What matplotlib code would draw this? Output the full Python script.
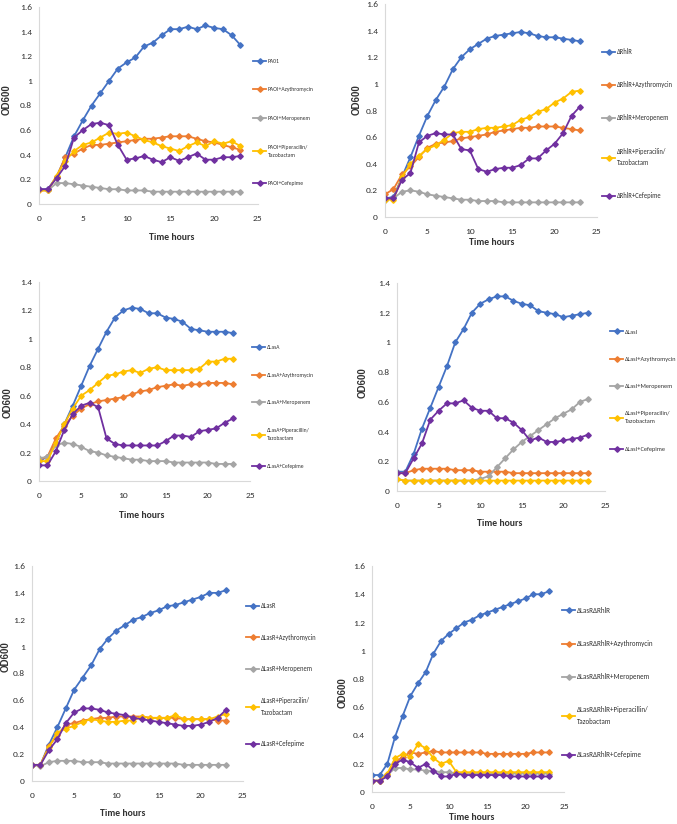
import matplotlib.pyplot as plt
import numpy as np
from matplotlib.ticker import FuncFormatter

# time points (hours)
hours = list(range(24))

# --- Panel A: PA01 ---
pa01 = [0.12, 0.12, 0.22, 0.38, 0.55, 0.68, 0.80, 0.90, 1.00, 1.10, 1.15, 1.19,
        1.28, 1.31, 1.37, 1.42, 1.42, 1.44, 1.42, 1.45, 1.43, 1.42, 1.37, 1.29]
pa01_azy = [0.11, 0.11, 0.22, 0.38, 0.41, 0.45, 0.48, 0.48, 0.49, 0.50, 0.51, 0.52,
            0.53, 0.53, 0.54, 0.55, 0.55, 0.55, 0.53, 0.51, 0.50, 0.48, 0.46, 0.44]
pa01_mero = [0.12, 0.11, 0.17, 0.17, 0.16, 0.15, 0.14, 0.13, 0.12, 0.12, 0.11, 0.11,
             0.11, 0.10, 0.10, 0.10, 0.10, 0.10, 0.10, 0.10, 0.10, 0.10, 0.10, 0.10]
pa01_pip = [0.11, 0.11, 0.23, 0.35, 0.43, 0.48, 0.50, 0.54, 0.58, 0.57, 0.58, 0.55,
            0.52, 0.50, 0.47, 0.45, 0.43, 0.47, 0.50, 0.47, 0.51, 0.49, 0.51, 0.47]
pa01_cef = [0.12, 0.12, 0.21, 0.31, 0.54, 0.60, 0.65, 0.66, 0.64, 0.48, 0.36, 0.37,
            0.39, 0.36, 0.34, 0.38, 0.35, 0.38, 0.41, 0.36, 0.36, 0.38, 0.38, 0.39]

# --- Panel B: dRhlR ---
rhlr = [0.14, 0.15, 0.30, 0.45, 0.61, 0.76, 0.88, 0.98, 1.11, 1.20, 1.26, 1.30,
        1.34, 1.36, 1.37, 1.38, 1.39, 1.38, 1.36, 1.35, 1.35, 1.34, 1.33, 1.32]
rhlr_azy = [0.17, 0.21, 0.32, 0.38, 0.45, 0.52, 0.55, 0.56, 0.57, 0.59, 0.60, 0.61,
            0.62, 0.64, 0.65, 0.66, 0.67, 0.67, 0.68, 0.68, 0.68, 0.67, 0.66, 0.65]
rhlr_mero = [0.13, 0.14, 0.19, 0.20, 0.19, 0.17, 0.16, 0.15, 0.14, 0.13, 0.13, 0.12,
             0.12, 0.12, 0.11, 0.11, 0.11, 0.11, 0.11, 0.11, 0.11, 0.11, 0.11, 0.11]
rhlr_pip = [0.13, 0.13, 0.30, 0.40, 0.46, 0.51, 0.54, 0.58, 0.63, 0.64, 0.64, 0.66,
            0.67, 0.67, 0.68, 0.69, 0.73, 0.75, 0.79, 0.81, 0.86, 0.89, 0.94, 0.95]
rhlr_cef = [0.14, 0.14, 0.28, 0.33, 0.56, 0.61, 0.63, 0.62, 0.62, 0.51, 0.50, 0.36,
            0.34, 0.36, 0.37, 0.37, 0.39, 0.44, 0.44, 0.50, 0.55, 0.63, 0.76, 0.83]

# --- Panel C: dLasA ---
lasa = [0.14, 0.17, 0.27, 0.40, 0.53, 0.67, 0.81, 0.93, 1.05, 1.15, 1.20, 1.22,
        1.21, 1.18, 1.18, 1.15, 1.14, 1.12, 1.07, 1.06, 1.05, 1.05, 1.05, 1.04]
lasa_azy = [0.15, 0.17, 0.30, 0.39, 0.46, 0.51, 0.54, 0.56, 0.57, 0.58, 0.59, 0.61,
            0.63, 0.64, 0.66, 0.67, 0.68, 0.67, 0.68, 0.68, 0.69, 0.69, 0.69, 0.68]
lasa_mero = [0.16, 0.17, 0.25, 0.27, 0.26, 0.24, 0.21, 0.20, 0.18, 0.17, 0.16, 0.15,
             0.15, 0.14, 0.14, 0.14, 0.13, 0.13, 0.13, 0.13, 0.13, 0.12, 0.12, 0.12]
lasa_pip = [0.14, 0.14, 0.27, 0.40, 0.51, 0.60, 0.64, 0.69, 0.74, 0.75, 0.77, 0.78,
            0.76, 0.79, 0.80, 0.78, 0.78, 0.78, 0.78, 0.79, 0.84, 0.84, 0.86, 0.86]
lasa_cef = [0.11, 0.11, 0.21, 0.36, 0.47, 0.53, 0.55, 0.52, 0.30, 0.26, 0.25, 0.25,
            0.25, 0.25, 0.25, 0.28, 0.32, 0.32, 0.31, 0.35, 0.36, 0.37, 0.41, 0.44]

# --- Panel D: dLasI ---
lasi = [0.13, 0.13, 0.25, 0.42, 0.56, 0.70, 0.84, 1.00, 1.09, 1.20, 1.26, 1.29,
        1.31, 1.31, 1.28, 1.26, 1.25, 1.21, 1.20, 1.19, 1.17, 1.18, 1.19, 1.20]
lasi_azy = [0.12, 0.12, 0.14, 0.15, 0.15, 0.15, 0.15, 0.14, 0.14, 0.14, 0.13, 0.13,
            0.13, 0.13, 0.12, 0.12, 0.12, 0.12, 0.12, 0.12, 0.12, 0.12, 0.12, 0.12]
lasi_mero = [0.08, 0.07, 0.07, 0.07, 0.07, 0.07, 0.07, 0.07, 0.07, 0.07, 0.08, 0.10,
             0.16, 0.22, 0.28, 0.33, 0.37, 0.41, 0.45, 0.49, 0.52, 0.55, 0.60, 0.62]
lasi_pip = [0.08, 0.07, 0.07, 0.07, 0.07, 0.07, 0.07, 0.07, 0.07, 0.07, 0.07, 0.07,
            0.07, 0.07, 0.07, 0.07, 0.07, 0.07, 0.07, 0.07, 0.07, 0.07, 0.07, 0.07]
lasi_cef = [0.12, 0.12, 0.22, 0.32, 0.48, 0.54, 0.59, 0.59, 0.61, 0.56, 0.54, 0.54,
            0.49, 0.49, 0.46, 0.41, 0.34, 0.36, 0.33, 0.33, 0.34, 0.35, 0.36, 0.38]

# --- Panel E: dLasR ---
lasr = [0.12, 0.12, 0.27, 0.40, 0.54, 0.68, 0.77, 0.86, 0.98, 1.06, 1.12, 1.16,
        1.20, 1.22, 1.25, 1.27, 1.30, 1.31, 1.33, 1.35, 1.37, 1.40, 1.40, 1.42]
lasr_azy = [0.12, 0.12, 0.26, 0.34, 0.42, 0.43, 0.45, 0.46, 0.47, 0.47, 0.48, 0.48,
            0.48, 0.48, 0.47, 0.47, 0.47, 0.47, 0.46, 0.46, 0.46, 0.46, 0.45, 0.45]
lasr_mero = [0.12, 0.11, 0.14, 0.15, 0.15, 0.15, 0.14, 0.14, 0.14, 0.13, 0.13, 0.13,
             0.13, 0.13, 0.13, 0.13, 0.13, 0.13, 0.12, 0.12, 0.12, 0.12, 0.12, 0.12]
lasr_pip = [0.12, 0.12, 0.25, 0.36, 0.39, 0.41, 0.44, 0.46, 0.45, 0.44, 0.44, 0.45,
            0.45, 0.48, 0.47, 0.47, 0.47, 0.49, 0.46, 0.46, 0.46, 0.46, 0.48, 0.50]
lasr_cef = [0.12, 0.12, 0.23, 0.31, 0.43, 0.51, 0.54, 0.54, 0.53, 0.51, 0.50, 0.49,
            0.47, 0.46, 0.45, 0.44, 0.43, 0.42, 0.41, 0.41, 0.42, 0.44, 0.47, 0.53]

# --- Panel F: dLasR dRhlR ---
lasr_rhlr = [0.12, 0.12, 0.20, 0.39, 0.54, 0.68, 0.77, 0.85, 0.98, 1.07, 1.12, 1.16,
             1.20, 1.22, 1.25, 1.27, 1.29, 1.31, 1.33, 1.35, 1.37, 1.40, 1.40, 1.42]
lasr_rhlr_azy = [0.08, 0.08, 0.12, 0.21, 0.25, 0.28, 0.27, 0.28, 0.29, 0.28, 0.28, 0.28,
                 0.28, 0.28, 0.28, 0.27, 0.27, 0.27, 0.27, 0.27, 0.27, 0.28, 0.28, 0.28]
lasr_rhlr_mero = [0.08, 0.08, 0.12, 0.17, 0.17, 0.16, 0.16, 0.15, 0.15, 0.14, 0.14, 0.13,
                  0.13, 0.13, 0.13, 0.13, 0.13, 0.13, 0.13, 0.13, 0.13, 0.13, 0.13, 0.13]
lasr_rhlr_pip = [0.08, 0.08, 0.13, 0.24, 0.27, 0.25, 0.34, 0.31, 0.24, 0.20, 0.22, 0.14,
                 0.14, 0.14, 0.14, 0.14, 0.14, 0.14, 0.14, 0.14, 0.14, 0.14, 0.14, 0.14]
lasr_rhlr_cef = [0.08, 0.08, 0.11, 0.20, 0.23, 0.21, 0.17, 0.20, 0.15, 0.11, 0.11, 0.13,
                 0.12, 0.12, 0.12, 0.12, 0.12, 0.12, 0.11, 0.11, 0.11, 0.11, 0.11, 0.11]

treatments_a = ['PA01', 'PAOI+Azythromycin', 'PAOI+Meropenem',
                'PAOI+Piperacilin/\nTazobactam', 'PAOI+Cefepime']
treatments_b = ['ΔRhlR', 'ΔRhlR+Azythromycin', 'ΔRhlR+Meropenem',
                'ΔRhlR+Piperacilin/\nTazobactam', 'ΔRhlR+Cefepime']
treatments_c = ['ΔLasA', 'ΔLasA+Azythromycin', 'ΔLasA+Meropenem',
                'ΔLasA+Piperacillin/\nTazobactam', 'ΔLasA+Cefepime']
treatments_d = ['ΔLasI', 'ΔLasI+Azythromycin', 'ΔLasI+Meropenem',
                'ΔLasI+Piperacilin/\nTazobactam', 'ΔLasI+Cefepime']
treatments_e = ['ΔLasR', 'ΔLasR+Azythromycin', 'ΔLasR+Meropenem',
                'ΔLasR+Piperacilin/\nTazobactam', 'ΔLasR+Cefepime']
treatments_f = ['ΔLasRΔRhlR', 'ΔLasRΔRhlR+Azythromycin', 'ΔLasRΔRhlR+Meropenem',
                'ΔLasRΔRhlR+Piperacillin/\nTazobactam', 'ΔLasRΔRhlR+Cefepime']

colors = ['#4472C4', '#ED7D31', '#A5A5A5', '#FFC000', '#7030A0']
calibri = ['Carlito', 'DejaVu Sans']

W, H = 677, 824
fig = plt.figure(figsize=(W / 100, H / 100), dpi=100)


def px_axes(left, right, top, bottom):
    return fig.add_axes([left / W, 1 - bottom / H, (right - left) / W, (bottom - top) / H])


def draw_panel(box, ymax, series, labels, xlab_pos, ylab_pos, leg_pos, leg_gap, leg_fs):
    ax = px_axes(*box)
    for vals, col in zip(series, colors):
        ax.plot(hours, vals, color=col, lw=1.3, marker='D', ms=2.8)
    ax.set_xlim(0, 25)
    ax.set_ylim(0, ymax)
    ax.set_xticks(range(0, 26, 5))
    ax.set_yticks(np.arange(0, ymax + 0.01, 0.2))
    ax.yaxis.set_major_formatter(FuncFormatter(lambda v, p: f'{v:g}'))
    ax.tick_params(length=0, labelsize=6.8, colors='#333333')
    ax.tick_params(axis='x', pad=8)
    ax.tick_params(axis='y', pad=5)
    for t in ax.get_xticklabels() + ax.get_yticklabels():
        t.set_fontfamily(calibri)
    for s in ['top', 'right']:
        ax.spines[s].set_visible(False)
    for s in ['left', 'bottom']:
        ax.spines[s].set_color('#D9D9D9')
        ax.spines[s].set_linewidth(0.8)

    # axis titles positioned in figure pixels
    inv = ax.transAxes.inverted()
    ax.set_xlabel('Time hours', fontsize=7, fontweight='bold', family=calibri,
                  color='#333333', va='center')
    ax.xaxis.set_label_coords(*inv.transform(fig.transFigure.transform(
        (xlab_pos[0] / W, 1 - xlab_pos[1] / H))))
    ax.set_ylabel('OD600', fontsize=7, fontweight='bold', family='Liberation Sans',
                  color='#333333', va='center')
    ax.yaxis.set_label_coords(*inv.transform(fig.transFigure.transform(
        (ylab_pos[0] / W, 1 - ylab_pos[1] / H))))

    fs_px = leg_fs * 100 / 72
    leg = ax.legend(labels, loc='upper left', frameon=False,
                    bbox_to_anchor=(leg_pos[0] / W, 1 - (leg_pos[1] - fs_px * 0.6) / H),
                    bbox_transform=fig.transFigure, borderpad=0, borderaxespad=0,
                    handlelength=13 / fs_px, handletextpad=0.3,
                    labelspacing=leg_gap / fs_px - 1.2,
                    prop={'family': calibri, 'size': leg_fs})
    for t in leg.get_texts():
        t.set_color('#333333')
        t.set_linespacing(1.75)
    return ax


draw_panel((39, 258, 7, 204), 1.6, [pa01, pa01_azy, pa01_mero, pa01_pip, pa01_cef],
           treatments_a, (172, 237), (7, 100), (253, 62), 30.5, 4.1)
draw_panel((385, 597, 4, 217), 1.6, [rhlr, rhlr_azy, rhlr_mero, rhlr_pip, rhlr_cef],
           treatments_b, (492, 243), (357, 100), (602, 52), 34, 4.7)
draw_panel((39, 250, 282, 481), 1.4, [lasa, lasa_azy, lasa_mero, lasa_pip, lasa_cef],
           treatments_c, (142, 515), (8, 403), (252, 348), 29.5, 4.0)
draw_panel((397, 605, 283, 491), 1.4, [lasi, lasi_azy, lasi_mero, lasi_pip, lasi_cef],
           treatments_d, (500, 524), (363, 383), (610, 333), 29.5, 4.5)
draw_panel((32, 243, 566, 781), 1.6, [lasr, lasr_azy, lasr_mero, lasr_pip, lasr_cef],
           treatments_e, (123, 813), (6, 657), (246, 606), 32.5, 4.7)
draw_panel((372, 564, 566, 792), 1.6,
           [lasr_rhlr, lasr_rhlr_azy, lasr_rhlr_mero, lasr_rhlr_pip, lasr_rhlr_cef],
           treatments_f, (472, 818), (343, 693), (562, 611), 34.5, 5.0)

fig.savefig('out.png', dpi=100, facecolor='white')
